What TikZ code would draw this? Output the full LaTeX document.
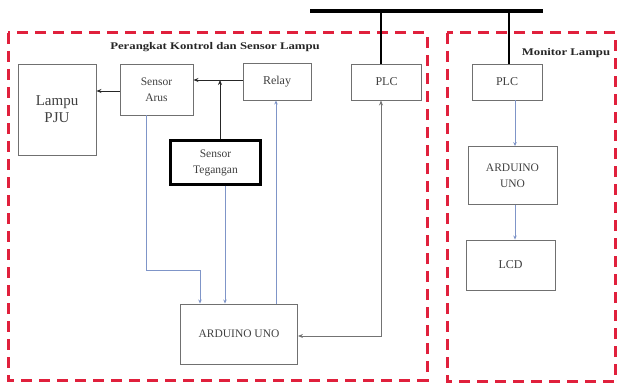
\documentclass[tikz,border=0pt]{standalone}
\usepackage{fontspec}
\setmainfont{Liberation Serif}
\newfontfamily\widefont[FakeStretch=1.25]{Liberation Serif}
\usetikzlibrary{arrows.meta}
\definecolor{dashred}{HTML}{E0203C}
\definecolor{linkblue}{HTML}{7F95C8}
\definecolor{boxgray}{HTML}{707070}
\tikzset{
  blk/.style={draw=boxgray, line width=0.9pt, fill=white, inner sep=0pt, align=center, text=black!75},
  thickblk/.style={blk, draw=black, line width=2.2pt},
  redframe/.style={draw=dashred, line width=3pt, dash pattern=on 11pt off 7pt},
  blu/.style={draw=linkblue, line width=0.7pt, -{Stealth[length=4pt,width=3.5pt]}},
  blkarrow/.style={draw=black!85, line width=0.8pt, -{Stealth[length=5pt,width=4pt]}},
  grayarrow/.style={draw=black!55, line width=0.9pt, {Stealth[length=5pt,width=4pt]}-{Stealth[length=5pt,width=4pt]}},
  bus/.style={draw=black, line width=4pt},
  wire/.style={draw=black, line width=1.5pt},
  titletxt/.style={inner sep=0pt, font=\widefont\bfseries\fontsize{10.2}{12}\selectfont, text=black!85}
}
\begin{document}
\begin{tikzpicture}[x=1pt,y=-1pt]
\useasboundingbox (0,0) rectangle (617,385);
% frames
\draw[redframe] (8,33) rectangle (427,380);
\draw[redframe] (447,33) rectangle (615,381);
\node[titletxt] (t1) at (215,47) {Perangkat Kontrol dan Sensor Lampu};
\node[titletxt, fill=white, inner sep=1pt] (t2) at (566,53) {Monitor Lampu};
% boxes
\node[blk, minimum width=78pt, minimum height=91pt, font=\fontsize{15}{17}\selectfont] (lampu) at (57,109.5) {Lampu\\PJU};
\node[blk, minimum width=73pt, minimum height=51pt, font=\fontsize{11.5}{16}\selectfont] (arus) at (156.5,89.5) {Sensor\\Arus};
\node[blk, minimum width=68pt, minimum height=37pt, font=\fontsize{12}{14}\selectfont] (relay) at (277,81.5) {Relay};
\node[thickblk, minimum width=90pt, minimum height=44pt, font=\fontsize{11.5}{16}\selectfont] (teg) at (215.5,162.5) {Sensor\\Tegangan};
\node[blk, minimum width=70pt, minimum height=36pt, font=\fontsize{12}{14}\selectfont] (plcl) at (386.5,82) {PLC};
\node[blk, minimum width=70pt, minimum height=36pt, font=\fontsize{12}{14}\selectfont] (plcr) at (507,82) {PLC};
\node[blk, minimum width=89pt, minimum height=58pt, font=\fontsize{11.5}{16}\selectfont] (ardur) at (512.5,175.5) {ARDUINO\\UNO};
\node[blk, minimum width=89pt, minimum height=50pt, font=\fontsize{12}{14}\selectfont] (lcd) at (510.5,265) {LCD};
\node[blk, minimum width=117pt, minimum height=60pt, font=\fontsize{11.5}{14}\selectfont] (ardu) at (239,334) {ARDUINO UNO};
% bus
\coordinate (busl) at (310,11);
\coordinate (busr) at (543,11);
\draw[bus] (busl) -- (busr);
\draw[wire] ([xshift=-5.5pt]plcl.north |- busl) -- ([xshift=-5.5pt]plcl.north);
\draw[wire] ([xshift=2pt]plcr.north |- busl) -- ([xshift=2pt]plcr.north);
% black connectors
\draw[blkarrow] ([yshift=1.5pt]relay.west) -- ([yshift=1.5pt]relay.west -| arus.east);
\draw[blkarrow] ([xshift=4.5pt]teg.north) -- ([xshift=4.5pt,yshift=1.5pt]teg.north |- relay.west);
\draw[blkarrow] ([yshift=-1.5pt]arus.west) -- ([yshift=-1.5pt]arus.west -| lampu.east);
% blue connectors
\coordinate (k1) at (200,270);
\draw[blu] ([xshift=-10.5pt]arus.south) |- (k1) -- (k1 |- ardu.north);
\draw[blu] ([xshift=9.5pt]teg.south) -- ([xshift=9.5pt]teg.south |- ardu.north);
\draw[blu] ([xshift=-1pt]relay.south |- ardu.north) -- ([xshift=-1pt]relay.south);
\draw[blu] ([xshift=8pt]plcr.south) -- ([xshift=8pt]plcr.south |- ardur.north);
\draw[blu] ([xshift=2.5pt]ardur.south) -- ([xshift=2.5pt]ardur.south |- lcd.north);
% PLC - Arduino
\draw[grayarrow] ([yshift=-2pt]ardu.east) -| ([xshift=-5.5pt]plcl.south);
\end{tikzpicture}
\end{document}
